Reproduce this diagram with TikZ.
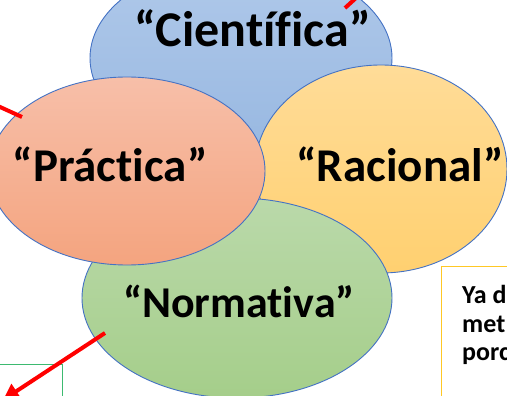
\documentclass[tikz,border=0pt]{standalone}
\usepackage{fontspec}
\setmainfont{Carlito}[Ligatures=NoCommon]
\usetikzlibrary{shapes.geometric,arrows.meta}
\definecolor{edgeblue}{HTML}{4472C4}
\definecolor{blueT}{HTML}{B0C9EA}
\definecolor{blueB}{HTML}{98B8E1}
\definecolor{pinkT}{HTML}{F7BFA9}
\definecolor{pinkB}{HTML}{F4A47F}
\definecolor{orangeT}{HTML}{FFDC98}
\definecolor{orangeB}{HTML}{FFD070}
\definecolor{greenT}{HTML}{BAD9AA}
\definecolor{greenB}{HTML}{A5CE8A}
\definecolor{boxgreen}{HTML}{3DBA70}
\definecolor{boxgold}{HTML}{FFC825}
\definecolor{arrred}{HTML}{FF0000}
\tikzset{
  petal/.style={ellipse, draw=edgeblue, line width=0.9pt, inner sep=0pt},
  bigword/.style={font=\bfseries, anchor=base, inner sep=0pt},
  redline/.style={draw=arrred, line width=4pt},
  redarrow/.style={redline, -{Triangle[length=16pt,width=17pt]}},
  notebox/.style={draw=boxgold, line width=1pt, fill=white, anchor=north west,
    minimum width=120pt, minimum height=140pt, inner sep=0pt},
  gbox/.style={draw=boxgreen, line width=1pt, anchor=north east,
    minimum width=75pt, minimum height=50pt, inner sep=0pt},
  boxtext/.style={font=\fontsize{26}{28}\selectfont\bfseries, anchor=base west,
    inner sep=0pt}
}
\begin{document}
\begin{tikzpicture}[x=1pt,y=-1pt]
\useasboundingbox (0,0) rectangle (507,396);
\clip (0,0) rectangle (507,396);
% petals
\node[petal, top color=blueT, bottom color=blueB, minimum width=302pt, minimum height=192pt] (cien) at (241,58) {};
\node[petal, top color=orangeT, bottom color=orangeB, minimum width=252pt, minimum height=208pt] (raci) at (381,169) {};
\node[petal, top color=greenT, bottom color=greenB, minimum width=310pt, minimum height=200pt] (norm) at (237,298) {};
\node[petal, top color=pinkT, bottom color=pinkB, minimum width=276pt, minimum height=188pt] (prac) at (127,171) {};
% words
\node[bigword, font=\fontsize{50}{50}\selectfont\bfseries] (tcien) at (252.5,47) {“Científica”};
\node[bigword, font=\fontsize{47}{47}\selectfont\bfseries] (tprac) at (110,182) {“Práctica”};
\node[bigword, font=\fontsize{47}{47}\selectfont\bfseries] (traci) at (400,182) {“Racional”};
\node[bigword, font=\fontsize{44}{44}\selectfont\bfseries] (tnorm) at (239,317) {“Normativa”};
% boxes
\node[notebox] (note) at (441,266) {};
\node[boxtext] (line1) at (462,303) {Ya d};
\node[boxtext] (line2) at (462,332) {met};
\node[boxtext] (line3) at (462,360) {porc};
\node[gbox] (green) at (63,364) {};
% red connectors
\coordinate (a1s) at (105,333);
\coordinate (a1e) at (3,400);
\draw[redarrow] (a1s) -- (a1e);
\coordinate (a2s) at (-12,101.5);
\coordinate (a2e) at (22,117);
\draw[redline] (a2s) -- (a2e);
\coordinate (a3s) at (345,8);
\coordinate (a3e) at (356,-2);
\draw[redline] (a3s) -- (a3e);
\end{tikzpicture}
\end{document}
